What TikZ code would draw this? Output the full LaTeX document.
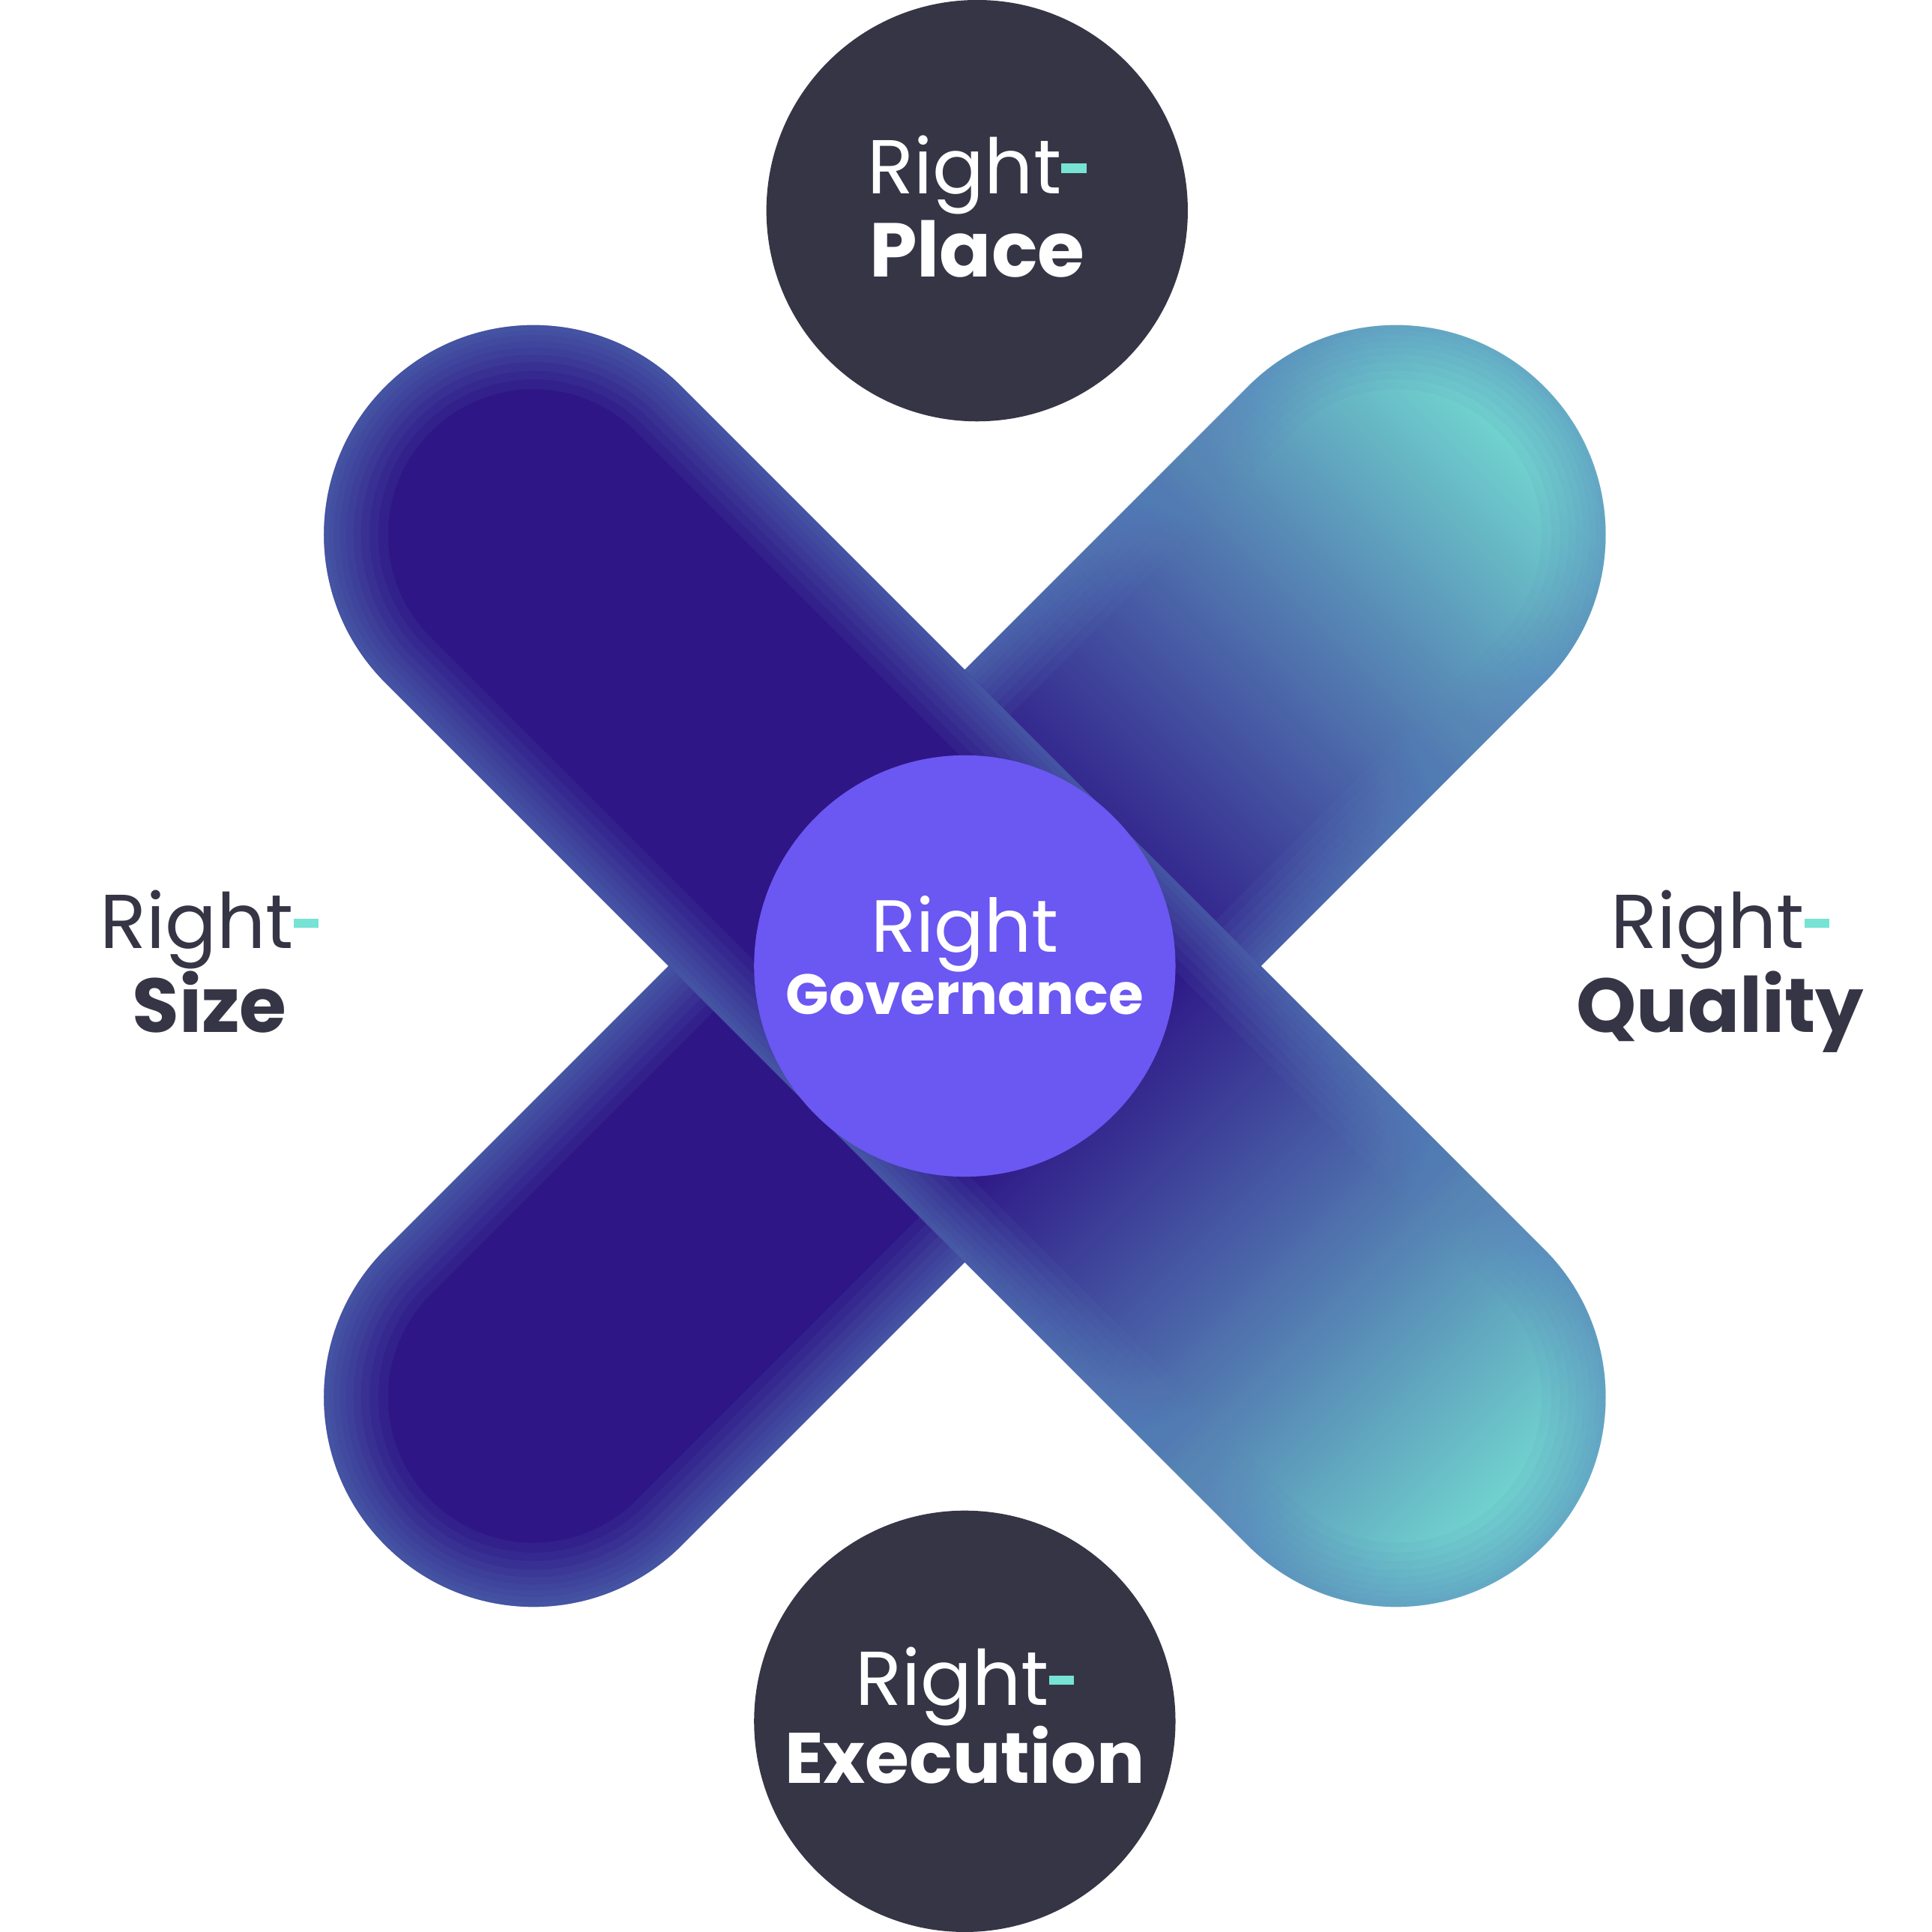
\documentclass[tikz,border=0pt]{standalone}
\usepackage{fontspec}
\setmainfont{Poppins}
\definecolor{dk}{HTML}{2E1686}
\definecolor{tl}{HTML}{76E3D4}
\definecolor{md}{HTML}{4A63A8}
\definecolor{gl}{HTML}{5B86BE}
\definecolor{txt}{HTML}{363545}
\definecolor{gov}{HTML}{6B57F2}
\pgfdeclareverticalshading{pil}{100bp}{color(0bp)=(dk); color(55bp)=(dk); color(64bp)=(md); color(78bp)=(tl); color(100bp)=(tl)}
\newcommand{\tdash}{\textcolor{tl}{\rule[0.27em]{0.33em}{0.12em}}}
\tikzset{
  lbl/.style={anchor=base, inner sep=0pt, text=txt},
  circ/.style={circle, fill=txt, minimum size=171pt, inner sep=0pt},
  glow/.style={gl, line width=#1, opacity=.09}
}
\newcommand{\glowit}[1]{%
  \foreach \w in {52pt,44pt,37pt,30pt,24pt,18pt,13pt,8pt,4pt}{\draw[glow=\w] #1;}}
\begin{document}
\begin{tikzpicture}[x=0.5pt,y=0.5pt]
\useasboundingbox (0,0) rectangle (1568,1568);
\fill[white] (0,0) rectangle (1568,1568);
% pill B (behind)
\begin{scope}
\def\pill{[rotate around={45:(783,784)}, rounded corners=84.9pt] (118,614) rectangle (1448,954)}
\path[shading=pil, shading angle=-45] \pill;
\clip \pill;
\glowit{\pill}
\end{scope}
% pill A (front)
\begin{scope}
\def\pill{[rotate around={-45:(783,784)}, rounded corners=84.9pt] (118,614) rectangle (1448,954)}
\path[shading=pil, shading angle=-135] \pill;
\clip \pill;
\glowit{\pill}
\end{scope}
\node[circ] (place) at (793,1397) {};
\node[circ] (exec) at (783,171) {};
\node[circ, fill=gov] (gov) at (783,784) {};
% texts
\node[lbl, text=white, font=\fontsize{31}{40}\selectfont] (p1) at (793,1411) {Right\tdash};
\node[lbl, text=white, font=\fontsize{31}{40}\bfseries\selectfont] (p2) at (793,1343) {Place};
\node[lbl, text=white, font=\fontsize{31}{40}\selectfont] (e1) at (783,184) {Right\tdash};
\node[lbl, text=white, font=\fontsize{29}{40}\bfseries\selectfont] (e2) at (783,121) {Execution};
\node[lbl, text=white, font=\fontsize{30}{40}\selectfont] (g1) at (783,795) {Right};
\node[lbl, text=white, font=\fontsize{23}{30}\bfseries\selectfont] (g2) at (783,745) {Governance};
\node[lbl, font=\fontsize{31}{40}\selectfont] (s1) at (170,798) {Right\tdash};
\node[lbl, font=\fontsize{31}{40}\bfseries\selectfont] (s2) at (170,730) {Size};
\node[lbl, font=\fontsize{31}{40}\selectfont] (q1) at (1396,798) {Right\tdash};
\node[lbl, font=\fontsize{31}{40}\bfseries\selectfont] (q2) at (1396,730) {Quality};
\end{tikzpicture}
\end{document}
